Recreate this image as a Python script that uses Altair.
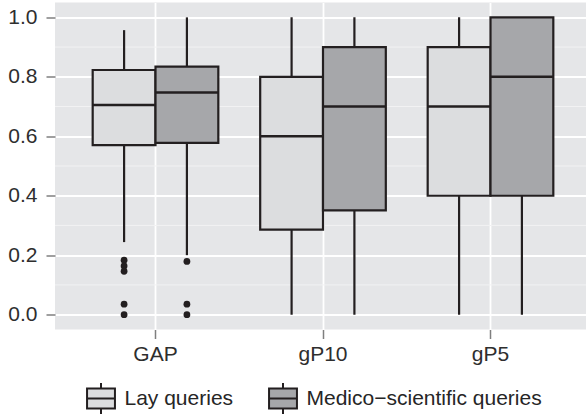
import altair as alt
import pandas as pd

metrics = ["GAP", "gP10", "gP5"]
groups = ["Lay queries", "Medico\u2212scientific queries"]

# box statistics, one entry per (metric, group) in order
box_metric = ["GAP", "GAP", "gP10", "gP10", "gP5", "gP5"]
box_group = [groups[0], groups[1]] * 3
lo = [0.244, 0.20, 0.0, 0.0, 0.0, 0.0]
q1 = [0.570, 0.578, 0.286, 0.351, 0.40, 0.40]
med = [0.705, 0.747, 0.60, 0.70, 0.70, 0.80]
q3 = [0.823, 0.834, 0.80, 0.90, 0.90, 1.00]
hi = [0.957, 1.00, 1.00, 1.00, 1.00, 1.00]

out_metric = ["GAP"] * 8
out_group = [groups[0]] * 5 + [groups[1]] * 3
out_value = [0.183, 0.164, 0.146, 0.035, 0.0, 0.179, 0.035, 0.0]

minor_y = [0.1, 0.3, 0.5, 0.7, 0.9]
major_y = [0.0, 0.2, 0.4, 0.6, 0.8, 1.0]

boxes = pd.DataFrame({"metric": box_metric, "group": box_group,
                      "lo": lo, "q1": q1, "med": med, "q3": q3, "hi": hi})
outs = pd.DataFrame({"metric": out_metric, "group": out_group, "value": out_value})
minor = pd.DataFrame({"y": minor_y})

FONT = "Liberation Sans"
INK = "#231F20"
fills = ["#DCDDDF", "#A6A7AA"]

yscale = alt.Scale(domain=[-0.05, 1.05], nice=False, zero=False)
xscale = alt.Scale(domain=metrics, range=[0, 536], paddingInner=0, paddingOuter=0.1)
xoff = alt.XOffset("group:N", sort=groups,
                   scale=alt.Scale(domain=groups, paddingInner=0, paddingOuter=0.3333))

xenc = alt.X("metric:N", sort=metrics, scale=xscale, title=None,
             axis=alt.Axis(labelFont=FONT, labelFontSize=21, labelColor="#2E2E2E",
                           tickColor="#7F7F7F", tickSize=9, tickWidth=1.5,
                           labelPadding=5, domain=False, grid=True, gridColor="#FFFFFF",
                           gridWidth=1.8, bandPosition=0.5, labelAngle=0))
yenc_axis = alt.Axis(values=major_y, format=".1f", labelFont=FONT, labelFontSize=21,
                     labelColor="#2E2E2E", tickColor="#7F7F7F", tickSize=9, tickWidth=1.5,
                     labelPadding=9, domain=False, grid=True, gridColor="#FFFFFF",
                     gridWidth=1.8)

minor_layer = alt.Chart(minor).mark_rule(color="#F2F2F3", strokeWidth=1).encode(
    y=alt.Y("y:Q", scale=yscale, axis=yenc_axis, title=None)
)

whisk = alt.Chart(boxes).mark_rule(color=INK, strokeWidth=2.2).encode(
    x=xenc, xOffset=xoff,
    y=alt.Y("lo:Q", scale=yscale, title=None),
    y2="hi:Q",
)

box = alt.Chart(boxes).mark_bar(stroke=INK, strokeWidth=2.2, opacity=1).encode(
    x=xenc, xOffset=xoff,
    y=alt.Y("q1:Q", scale=yscale, title=None),
    y2="q3:Q",
    fill=alt.Fill("group:N", sort=groups,
                  scale=alt.Scale(domain=groups, range=fills),
                  legend=alt.Legend(title=None, orient="none", direction="horizontal",
                                    legendX=29.5, legendY=379.5,
                                    symbolType="M-0.9,-0.65H0.9V0.65H-0.9Z M-0.9,0H0.9 M0,-1V-0.65 M0,0.65V1",
                                    symbolSize=961, symbolStrokeColor=INK,
                                    symbolStrokeWidth=2, symbolOpacity=1,
                                    labelFont=FONT, labelFontSize=21, labelColor="#262626",
                                    labelOffset=7, columnPadding=31, padding=0,
                                    labelLimit=400)),
)

median = alt.Chart(boxes).mark_bar(stroke=INK, strokeWidth=2.4, fill="transparent").encode(
    x=xenc, xOffset=xoff,
    y=alt.Y("med:Q", scale=yscale, title=None),
    y2="med:Q",
)

pts = alt.Chart(outs).mark_circle(color=INK, size=46, opacity=1).encode(
    x=xenc, xOffset=xoff,
    y=alt.Y("value:Q", scale=yscale, title=None),
)

chart = alt.layer(minor_layer, whisk, box, median, pts).properties(
    width=531, height=327,
    autosize=alt.AutoSizeParams(type="none"),
    padding={"left": 55, "top": 2.5, "right": 0, "bottom": 87.5},
    background="#FFFFFF",
).configure_view(fill="#E5E6E8", stroke=None)

chart.save("out.html", embed_options={"renderer": "svg", "actions": False})
